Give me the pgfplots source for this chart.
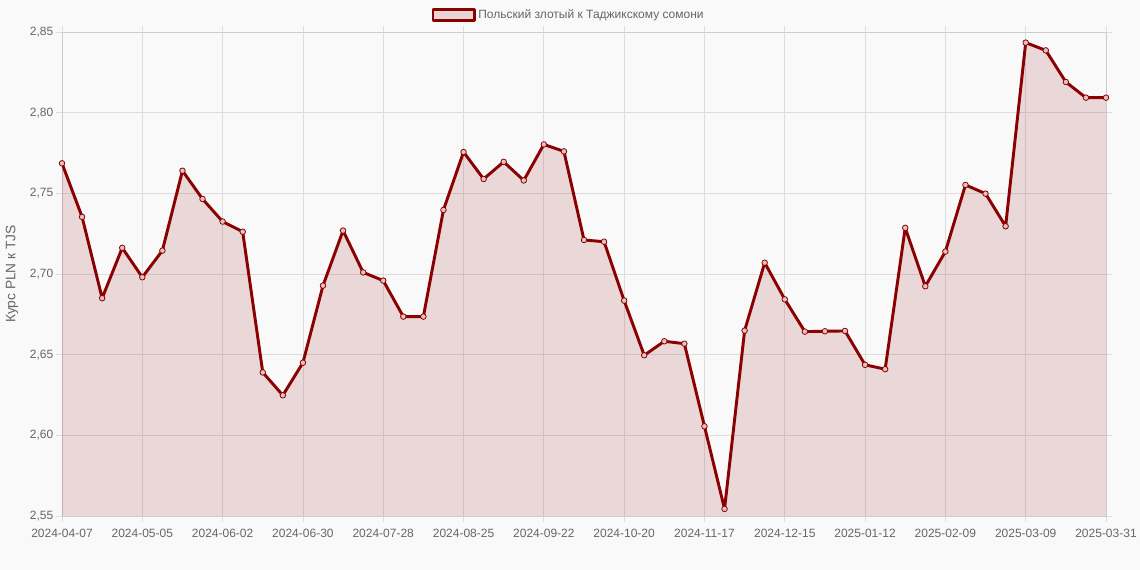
\documentclass[border=0pt]{standalone}
\usepackage{fontspec}
\setmainfont{Liberation Sans}
\usepackage{pgfplots}
\usepackage{pgfplotstable}
\pgfplotsset{compat=1.18}

\definecolor{bg}{HTML}{F9F9F9}
\definecolor{linered}{HTML}{8B0000}
\definecolor{txt}{HTML}{666666}
\definecolor{gridc}{HTML}{DDDDDD}

% weekly PLN/TJS rate, index 0 = 2024-04-07
\pgfplotstableread{
i v
0 2.7686
1 2.7354
2 2.6850
3 2.7162
4 2.6980
5 2.7145
6 2.7640
7 2.7465
8 2.7325
9 2.7262
10 2.6390
11 2.6248
12 2.6450
13 2.6928
14 2.7269
15 2.7010
16 2.6959
17 2.6736
18 2.6736
19 2.7397
20 2.7756
21 2.7589
22 2.7695
23 2.7580
24 2.7803
25 2.7760
26 2.7211
27 2.7200
28 2.6835
29 2.6496
30 2.6583
31 2.6568
32 2.6056
33 2.5544
34 2.6649
35 2.7070
36 2.6843
37 2.6643
38 2.6645
39 2.6647
40 2.6437
41 2.6410
42 2.7286
43 2.6924
44 2.7139
45 2.7552
46 2.7498
47 2.7296
48 2.8434
49 2.8386
50 2.8190
51 2.8093
52 2.8093
}\rates

\begin{document}
\begin{tikzpicture}
\fill[bg] (0pt,0pt) rectangle (855pt,427.5pt);
\path[use as bounding box] (0pt,0pt) rectangle (855pt,427.5pt);
\begin{axis}[
  at={(46.5pt,40.5pt)}, anchor=south west,
  scale only axis, width=783pt, height=363pt,
  xmin=0, xmax=52, ymin=2.55, ymax=2.85,
  xtick={0,4,8,12,16,20,24,28,32,36,40,44,48,52},
  xticklabels={2024-04-07,2024-05-05,2024-06-02,2024-06-30,2024-07-28,2024-08-25,2024-09-22,2024-10-20,2024-11-17,2024-12-15,2025-01-12,2025-02-09,2025-03-09,2025-03-31},
  ytick={2.55,2.6,2.65,2.7,2.75,2.8,2.85},
  yticklabel style={xshift=1.5pt, /pgf/number format/.cd, use comma, fixed, fixed zerofill, precision=2, assume math mode=true},
  xticklabel style={yshift=-2pt},
  ticklabel style={font=\fontsize{9pt}{11pt}\selectfont, text=txt},
  grid=major,
  major grid style={gridc, line width=0.6pt},
  axis line style={black!20, line width=0.6pt},
  tick style={gridc, line width=0.6pt},
  tick align=outside, major tick length=4.5pt,
  ylabel={Курс PLN к TJS},
  every axis y label/.style={at={(axis description cs:-0.0479,0.5)}, rotate=90, anchor=center, font=\fontsize{10.3pt}{12pt}\selectfont, text=txt},
  legend style={at={(axis description cs:0.4856,1.035)}, anchor=center, draw=none, fill=none, font=\fontsize{9pt}{11pt}\selectfont, text=txt, inner sep=0pt},
  legend image code/.code={\draw[draw=linered, fill=linered!15!bg, line width=2pt] (0pt,-4.25pt) rectangle (31pt,4.25pt);},
]
\addplot[draw=none, fill=linered, fill opacity=0.13, forget plot] table[x=i, y=v] {\rates} \closedcycle;
\addplot[linered, line width=2.2pt, line join=round, mark=*, mark size=2.1pt,
  mark options={draw=linered, fill=linered!22!bg, line width=0.6pt}]
  table[x=i, y=v] {\rates};
\addlegendentry{Польский злотый к Таджикскому сомони}
\end{axis}
\end{tikzpicture}
\end{document}
